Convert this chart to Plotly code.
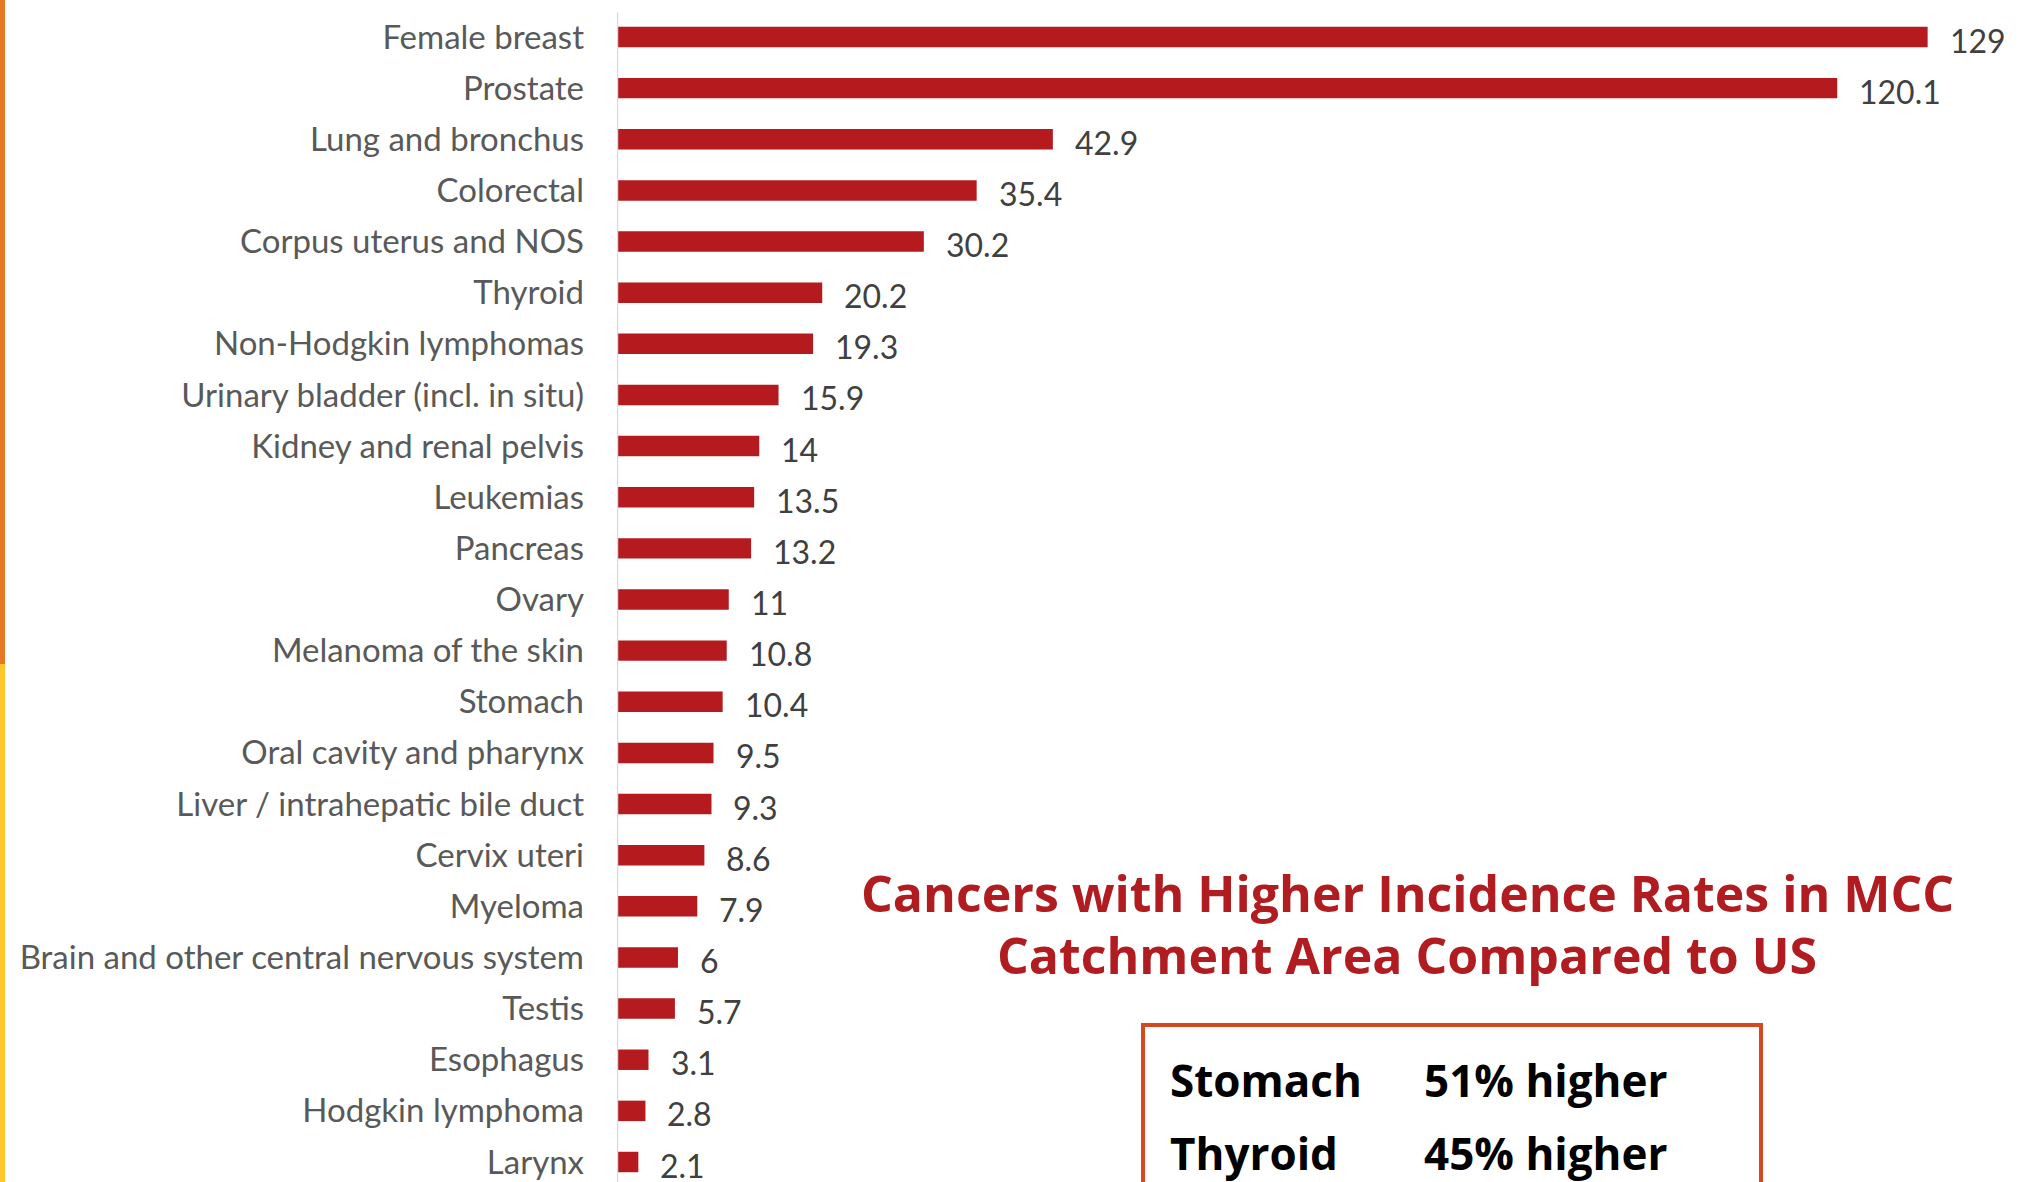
import plotly.graph_objects as go

categories = [
    "Female breast", "Prostate", "Lung and bronchus", "Colorectal",
    "Corpus uterus and NOS", "Thyroid", "Non-Hodgkin lymphomas",
    "Urinary bladder (incl. in situ)", "Kidney and renal pelvis", "Leukemias",
    "Pancreas", "Ovary", "Melanoma of the skin", "Stomach",
    "Oral cavity and pharynx", "Liver / intrahepatic bile duct", "Cervix uteri",
    "Myeloma", "Brain and other central nervous system", "Testis",
    "Esophagus", "Hodgkin lymphoma", "Larynx",
]
values = [129, 120.1, 42.9, 35.4, 30.2, 20.2, 19.3, 15.9, 14, 13.5, 13.2, 11,
          10.8, 10.4, 9.5, 9.3, 8.6, 7.9, 6, 5.7, 3.1, 2.8, 2.1]
value_labels = ["129", "120.1", "42.9", "35.4", "30.2", "20.2", "19.3", "15.9",
                "14", "13.5", "13.2", "11", "10.8", "10.4", "9.5", "9.3", "8.6",
                "7.9", "6", "5.7", "3.1", "2.8", "2.1"]
title_lines = ["Cancers with Higher Incidence Rates in MCC",
               "Catchment Area Compared to US"]
highlight_names = ["Stomach", "Thyroid"]
highlight_pcts = ["51% higher", "45% higher"]

W, H = 2024, 1182
BAR_COLOR = "#B41A1E"
AXIS_X0 = 617
PX_PER_UNIT = 10.16


def px(x):
    return x / W


def py(y):
    return 1 - y / H


fig = go.Figure()
fig.add_trace(go.Bar(
    x=values, y=categories, orientation="h",
    marker=dict(color=BAR_COLOR, line=dict(width=0)),
    hoverinfo="x+y",
))

# value labels
for c, v, t in zip(categories, values, value_labels):
    fig.add_annotation(x=v, y=c, xref="x", yref="y", text=t, showarrow=False,
                       xanchor="left", yanchor="middle", xshift=20, yshift=-3,
                       font=dict(family="Lato", size=32, color="#404040"))

first_c, last_c = 37, 1162
spacing = (last_c - first_c) / (len(categories) - 1)
y_top = -first_c / spacing
y_bot = (len(categories) - 1) + (H - last_c) / spacing

fig.update_layout(
    width=W, height=H,
    margin=dict(l=0, r=0, t=0, b=0),
    paper_bgcolor="white", plot_bgcolor="white",
    bargap=0.6,
    showlegend=False,
    xaxis=dict(domain=[AXIS_X0 / W, 1], range=[0, (W - AXIS_X0) / PX_PER_UNIT],
               showgrid=False, zeroline=False, showticklabels=False,
               showline=False, fixedrange=True),
    yaxis=dict(domain=[0, 1], type="category", range=[y_bot, y_top],
               showgrid=False, zeroline=False, showline=False,
               ticks="", ticklabelstandoff=32,
               tickfont=dict(family="Lato", size=33, color="#595959"),
               fixedrange=True),
)

# axis line
fig.add_shape(type="line", xref="x", yref="paper", x0=0, x1=0,
              y0=0, y1=py(12), line=dict(color="#D9D9D9", width=2.5))

# left accent strip
fig.add_shape(type="rect", xref="paper", yref="paper", x0=0, x1=px(5),
              y0=py(664), y1=1, fillcolor="#E87722", line=dict(width=0))
fig.add_shape(type="rect", xref="paper", yref="paper", x0=0, x1=px(5),
              y0=0, y1=py(664), fillcolor="#FFC72C", line=dict(width=0))

# title (two lines)
for line, yc in zip(title_lines, [893, 955]):
    fig.add_annotation(x=px(1407), y=py(yc), xref="paper", yref="paper",
                       text=line, showarrow=False,
                       xanchor="center", yanchor="middle", align="center",
                       font=dict(family="Open Sans", size=50, color="#B01C20",
                                 weight="bold"))

# highlight box
fig.add_shape(type="rect", xref="paper", yref="paper",
              x0=px(1143), x1=px(1761), y0=-0.05, y1=py(1025),
              line=dict(color="#D5471F", width=4), fillcolor="rgba(0,0,0,0)")
for i, (n, p) in enumerate(zip(highlight_names, highlight_pcts)):
    yc = 1080 + i * 73
    fig.add_annotation(x=px(1168), y=py(yc), xref="paper", yref="paper",
                       text=n, showarrow=False, xanchor="left", yanchor="middle",
                       font=dict(family="Open Sans", size=44, color="black",
                                 weight="bold"))
    fig.add_annotation(x=px(1422), y=py(yc), xref="paper", yref="paper",
                       text=p, showarrow=False, xanchor="left", yanchor="middle",
                       font=dict(family="Open Sans", size=44, color="black",
                                 weight="bold"))

fig.write_html("out.html",
               config={"displayModeBar": False},
               post_script="document.body.style.margin='0';"
                           "document.body.style.overflow='hidden';")
